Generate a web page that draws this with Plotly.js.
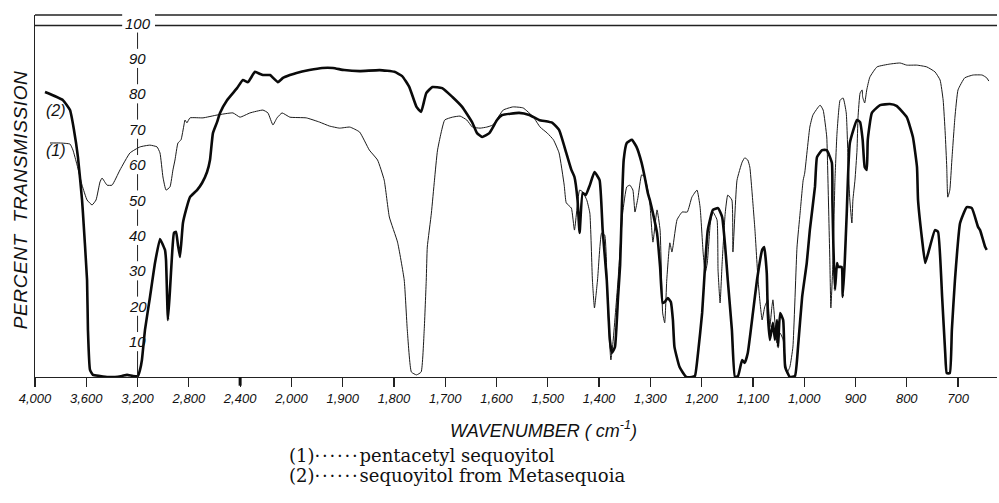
<!DOCTYPE html>
<html>
<head>
<meta charset="utf-8">
<script src="https://cdn.plot.ly/plotly-3.0.1.min.js"></script>
<style>
  html, body { margin: 0; padding: 0; background: #fff; }
  #chart { width: 999px; height: 503px; }
  .annotation[data-index="12"] text { letter-spacing: 0.6px; }
</style>
</head>
<body>
<div id="chart"></div>
<script>
// ---- data (wavenumber in cm^-1, percent transmission) ----
// (1) pentacetyl sequoyitol (thin line)
const wn1 = [3883,3805,3727,3704,3672,3633,3594,3555,3524,3493,3477,3438,3399,3337,3259,3181,3103,3048,3025,3002,2978,2947,2924,2908,2885,2861,2838,2830,2815,2791,2690,2580,2456,2401,2323,2222,2183,2144,2112,2073,2012,1971,1945,1926,1906,1886,1867,1848,1832,1819,1809,1793,1780,1774,1766,1756,1747,1741,1737,1735,1727,1721,1715,1701,1686,1671,1658,1647,1632,1619,1607,1587,1568,1548,1528,1515,1501,1489,1478,1468,1464,1454,1448,1438,1432,1424,1418,1413,1409,1403,1395,1389,1383,1377,1373,1363,1354,1346,1340,1334,1330,1324,1317,1311,1305,1301,1295,1287,1281,1276,1272,1268,1262,1258,1256,1248,1238,1228,1219,1209,1203,1197,1193,1189,1183,1178,1170,1168,1164,1160,1154,1149,1141,1139,1131,1121,1116,1110,1106,1102,1096,1090,1086,1082,1077,1071,1067,1063,1061,1057,1053,1047,1041,1034,1028,1022,1014,1008,1002,999,989,983,969,963,956,954,950,948,944,940,936,930,924,918,914,911,907,905,901,897,895,891,887,886,882,878,872,858,833,813,800,780,761,745,735,729,725,722,720,716,712,706,700,687,671,653,644,640];
const t1 = [66.1,66.1,65.8,64.1,59.9,54.2,50,48.6,50,55.1,56.2,54.2,54.2,58.5,63.3,65,65.5,65,63.3,56.5,52.8,53.7,58.5,61.3,66.1,67,71.2,72.6,71.8,73.2,73.2,74,74.6,73.4,74.6,75.4,74.6,71.2,73.2,74.6,73.4,73.2,72,70.9,70.3,70.6,69.2,64.1,61.3,55.6,45.2,38.1,27.4,13.3,1.4,0.6,1.4,13.3,27.4,36.7,46.3,55.6,64.1,72.6,73.4,73.7,72.6,70.6,70.3,70.6,71.2,75.4,76.3,76,73.4,70.6,68.9,67,63.3,54.2,49.2,47.7,41.5,52.8,52.3,50,46.3,27.4,19.5,27.4,40.7,40.1,19.8,4.8,9.6,27.4,46.3,53.7,54.2,52.8,46.6,50.8,57.1,56.5,52.8,49.2,38.1,47.2,41.5,18.1,15.3,27.4,37.9,35.3,36.7,44.4,46.6,46.6,50.8,52.8,48,35,29.4,32.2,43.5,46.6,44.4,30.2,20.9,32.2,46.3,51.4,50,35.3,55.6,60.7,61.9,61.3,59.3,52.8,41.5,27.4,20.9,16.1,19.8,21.8,14.1,19.8,21.8,15.3,9.6,12.4,10.5,1.1,2.8,8.5,36.7,46.3,55.6,57.6,70.6,74,76.8,75.4,67.8,57.6,33,19.5,32.2,55.6,68.9,78.2,78.8,74.6,59.3,50,43.5,50,55.6,64.1,73.4,80.2,81.1,79.1,77.4,81.1,84.7,87.6,88.4,88.7,88.1,88.1,87.6,86.2,83.9,78.2,68.9,59.3,50.8,52.8,61.3,73.4,81.1,84.5,85.3,85.3,84.5,83.6];

// (2) sequoyitol from Metasequoia (thick line)
const wn2 = [3922,3782,3727,3696,3665,3633,3626,3594,3587,3571,3548,3493,3431,3376,3321,3282,3236,3197,3181,3166,3142,3103,3064,3025,3002,2986,2978,2963,2947,2931,2916,2900,2885,2869,2846,2822,2791,2736,2697,2658,2635,2612,2580,2557,2502,2424,2378,2339,2284,2245,2222,2167,2105,2066,2012,1990,1965,1940,1919,1897,1867,1828,1799,1784,1770,1756,1747,1737,1725,1706,1686,1667,1647,1638,1628,1614,1599,1589,1556,1536,1517,1491,1478,1464,1454,1448,1442,1438,1432,1426,1418,1409,1399,1393,1385,1379,1375,1369,1363,1359,1356,1352,1346,1336,1327,1317,1311,1305,1301,1295,1287,1281,1276,1272,1266,1260,1256,1253,1243,1230,1219,1213,1207,1199,1193,1188,1178,1168,1160,1154,1149,1141,1135,1129,1121,1116,1110,1100,1092,1082,1078,1073,1071,1067,1061,1057,1053,1051,1047,1041,1037,1028,1018,1012,1004,995,989,979,975,965,956,946,945,943,940,936,934,927,925,921,917,911,897,891,886,882,878,876,868,852,833,820,800,788,780,778,770,764,755,745,739,731,725,722,716,712,706,696,683,673,661,657,647,644];
const t2 = [80.5,78.2,75.4,69.8,62.1,50,46.3,27.4,13.3,2,0.6,0.3,0,0,0.3,0.6,0.3,0.3,2,4.8,13.3,22.6,32.2,39,37.3,35.9,33,16.1,24.6,34.5,40.7,41,37.3,33.9,43.5,47.2,50.8,52.8,54.8,57.9,61.3,68.9,72,74.6,78.2,81.6,83.9,83.3,86.2,85.6,85.3,85.3,83.3,84.5,85.3,85.9,86.7,87.3,87.3,86.7,86.4,86.7,86.2,85,81.9,76.3,74.9,80.2,81.9,81.6,79.1,76.3,71.8,68.9,67.8,68.9,72.6,74,74.6,74,72.6,71.8,69.8,63.3,58.5,56.5,50,40.7,52,51.4,54.2,57.9,55.6,41.5,27.4,10.5,6.8,8.5,22.6,31.6,45.8,61.3,66.1,67,65,60.5,56.5,52,50,46.3,40.7,31.1,20.9,21.2,22.3,21.2,16.1,8.5,2.8,0,0,0.3,6.8,18.1,32.2,41.5,47.2,47.7,45.2,36.7,27.4,13.3,0,0.3,4.8,4,6.8,18.1,27.4,35.9,36.7,29.4,18.1,10.5,15.3,10.5,16.1,8.5,18.1,16.1,2.8,0,0.3,8.5,22.6,32.2,41.5,53.7,62.1,64.1,64.1,60.5,50,36.7,24.6,32.2,31.1,31.1,22.6,32.2,46.3,66.1,72.6,72,67,59.3,58.5,67,74.6,76.8,77.1,76.6,73.4,67.8,59.3,50,38.7,32.2,36.7,41.5,41,22.6,6.8,1.1,1.1,13.3,27.4,43.5,48,47.7,42.4,41.5,36.7,35.9];

// axis ticks
const xTickWn = [4000,3600,3200,2800,2400,2000,1900,1800,1700,1600,1500,1400,1300,1200,1100,1000,900,800,700];
const xTickText = ["4,000","3,600","3,200","2,800","2,400","2,000","1,900","1,800","1,700","1,600","1,500","1,400","1,300","1,200","1,100","1,000","900","800","700"];
const yTickVals = [10,20,30,40,50,60,70,80,90,100];
const yTickText = ["10","20","30","40","50","60","70","80","90","100"];

// grating-change scale: 400 cm-1 per division above 2000, 100 cm-1 per division below
function toU(w) { return w >= 2000 ? (4000 - w) / 400 : 5 + (2000 - w) / 100; }

const X_MAX = 18.76;
const Y_MAX = 102.26;
const yAxisU = toU(3200);

const traces = [
  { x: wn1.map(toU), y: t1, type: 'scatter', mode: 'lines',
    line: { color: '#1a1a1a', width: 1, shape: 'spline', smoothing: 0.4 }, hoverinfo: 'skip' },
  { x: wn2.map(toU), y: t2, type: 'scatter', mode: 'lines',
    line: { color: '#0a0a0a', width: 2.6, shape: 'spline', smoothing: 0.4 }, hoverinfo: 'skip' }
];

const italic = { family: 'Liberation Sans, Arial, sans-serif', color: '#111', style: 'italic' };
const serif = { family: 'DejaVu Serif, Liberation Serif, serif', size: 18, color: '#111' };
const H = '\u200A';

const annotations = [];
yTickVals.forEach((v, i) => {   // indices 0..9
  annotations.push({ x: yAxisU, y: v, xref: 'x', yref: 'y', text: yTickText[i], showarrow: false,
    xanchor: 'center', yanchor: 'middle', font: Object.assign({}, italic, { size: 15 }) });
});
annotations.push({ x: toU(3840), y: 75.4, xref: 'x', yref: 'y', text: '(2)', showarrow: false,   // 10
  xanchor: 'center', yanchor: 'middle', font: Object.assign({}, italic, { size: 16 }) });
annotations.push({ x: toU(3840), y: 64.1, xref: 'x', yref: 'y', text: '(1)', showarrow: false,   // 11
  xanchor: 'center', yanchor: 'middle', font: Object.assign({}, italic, { size: 16 }) });
annotations.push({ x: -0.0146, y: 0.489, xref: 'paper', yref: 'paper', text: 'PERCENT  TRANSMISSION', // 12
  textangle: -90, showarrow: false, xanchor: 'center', yanchor: 'middle',
  font: Object.assign({}, italic, { size: 19 }) });
annotations.push({ x: 0.263, y: -0.216, xref: 'paper', yref: 'paper',                               // 13
  text: '(1)' + ('·' + H).repeat(6) + 'pentacetyl sequoyitol',
  showarrow: false, xanchor: 'left', yanchor: 'middle', align: 'left', borderpad: 0, font: serif });
annotations.push({ x: 0.263, y: -0.273, xref: 'paper', yref: 'paper',                               // 14
  text: '(2)' + ('·' + H).repeat(6) + 'sequoyitol from Metasequoia',
  showarrow: false, xanchor: 'left', yanchor: 'middle', align: 'left', borderpad: 0, font: serif });
annotations.push({ x: 0.429, y: -0.146, xref: 'paper', yref: 'paper', text: 'WAVENUMBER ( cm<sup>-1</sup>)', // 15
  showarrow: false, xanchor: 'left', yanchor: 'middle', font: Object.assign({}, italic, { size: 18 }) });

const shapes = [];
// double top rule, broken by the "100" label
const gapL = 1.70, gapR = 2.34, rule2 = 99.3;
[[0, gapL], [gapR, X_MAX]].forEach(([a, b]) => {
  shapes.push({ type: 'line', xref: 'x', yref: 'paper', x0: a, x1: b, y0: 1, y1: 1, line: { color: '#222', width: 1.3 } });
  shapes.push({ type: 'line', xref: 'x', yref: 'y', x0: a, x1: b, y0: rule2, y1: rule2, line: { color: '#222', width: 1.3 } });
});
// vertical %T scale line at 3200 cm-1, broken by its labels
const stops = [0].concat(yTickVals);
for (let i = 0; i < stops.length - 1; i++) {
  const lo = i === 0 ? 0 : stops[i] + 2.7;
  const hi = stops[i + 1] - 2.7;
  shapes.push({ type: 'line', xref: 'x', yref: 'y', x0: yAxisU, x1: yAxisU, y0: lo, y1: hi,
    line: { color: '#222', width: 1 } });
}
// heavier tick at 2400
shapes.push({ type: 'line', xref: 'x', yref: 'paper', x0: toU(2400), x1: toU(2400), y0: 0, y1: -0.024,
  line: { color: '#111', width: 3 } });

const layout = {
  width: 999, height: 503,
  margin: { l: 35, r: 2, t: 15, b: 126 },
  paper_bgcolor: '#fff', plot_bgcolor: '#fff',
  showlegend: false,
  xaxis: {
    range: [0, X_MAX], tickmode: 'array', tickvals: xTickWn.map(toU), ticktext: xTickText,
    showgrid: false, zeroline: false, showline: true, linecolor: '#222', linewidth: 1.3,
    ticks: 'outside', ticklen: 9, tickwidth: 1.2, tickcolor: '#222',
    tickfont: Object.assign({}, italic, { size: 13 })
  },
  yaxis: {
    range: [0, Y_MAX], showgrid: false, zeroline: false, showticklabels: false, ticks: '',
    showline: true, linecolor: '#222', linewidth: 1
  },
  annotations: annotations,
  shapes: shapes
};

Plotly.newPlot('chart', traces, layout, { staticPlot: true, displayModeBar: false });
</script>
</body>
</html>
